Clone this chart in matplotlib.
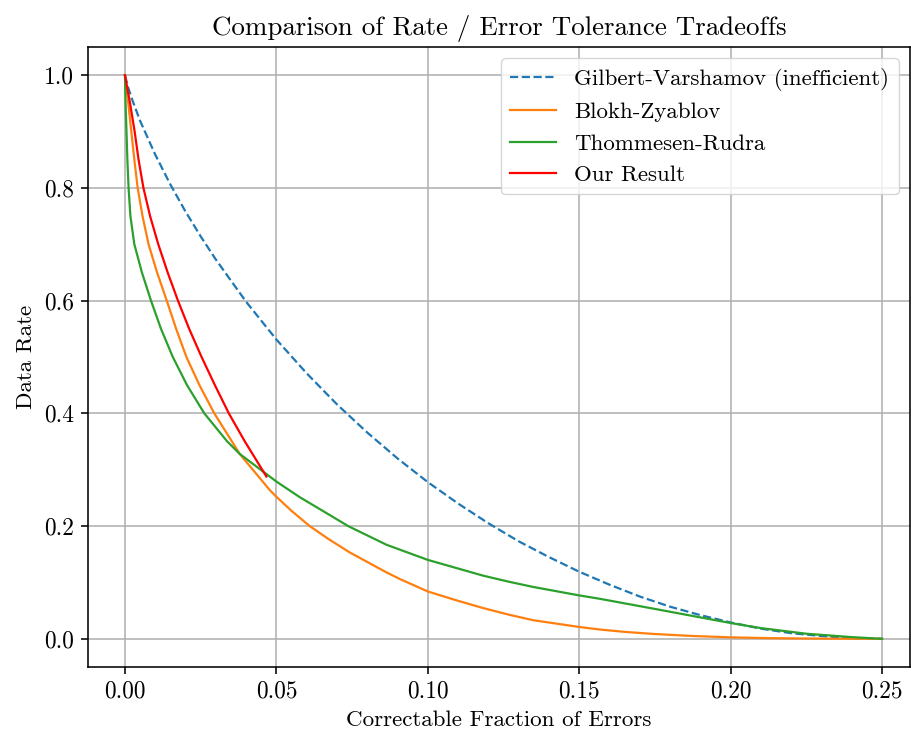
import matplotlib
matplotlib.use("Agg")
import matplotlib.pyplot as plt

# Computer Modern look (no LaTeX in the sandbox)
plt.rcParams['font.family'] = 'serif'
plt.rcParams['font.serif'] = ['cmr10']
plt.rcParams['mathtext.fontset'] = 'cm'
plt.rcParams['axes.formatter.use_mathtext'] = True

S = 1.42  # scale from default 100 dpi sizes

# ── Data ─────────────────────────────────────────────────────────────────────
gv_x = [0, 0.001, 0.0025, 0.005, 0.01, 0.015, 0.02, 0.025, 0.03, 0.04, 0.05,
        0.06, 0.07, 0.08, 0.09, 0.10, 0.11, 0.12, 0.13, 0.14, 0.15, 0.16,
        0.17, 0.18, 0.19, 0.20, 0.21, 0.22, 0.23, 0.24, 0.25]
gv_y = [1.0, 0.979, 0.955, 0.919, 0.859, 0.806, 0.758, 0.714, 0.673, 0.598,
        0.531, 0.471, 0.416, 0.366, 0.320, 0.278, 0.240, 0.205, 0.173, 0.145,
        0.119, 0.096, 0.075, 0.057, 0.042, 0.029, 0.018, 0.010, 0.005, 0.001,
        0.0]

bz_x = [0, 0.0011, 0.0021, 0.0031, 0.0042, 0.0058, 0.0078, 0.0106, 0.0138,
        0.0169, 0.0203, 0.0246, 0.0295, 0.0379, 0.0478, 0.050, 0.055, 0.061,
        0.0675, 0.0743, 0.0863, 0.0908, 0.10, 0.109, 0.1183, 0.127, 0.1348,
        0.15, 0.1568, 0.165, 0.175, 0.1875, 0.20, 0.2125, 0.225, 0.2375, 0.25]
bz_y = [1.0, 0.95, 0.90, 0.85, 0.80, 0.75, 0.70, 0.65, 0.60, 0.55, 0.50,
        0.45, 0.40, 0.328, 0.264, 0.252, 0.227, 0.200, 0.176, 0.153, 0.118,
        0.106, 0.084, 0.069, 0.0545, 0.0425, 0.033, 0.021, 0.0165, 0.0123,
        0.0085, 0.0050, 0.0026, 0.0012, 0.0005, 0.00015, 0.0]

tr_x = [0, 0.0002, 0.0005, 0.0008, 0.0012, 0.0018, 0.0031, 0.0056, 0.0086,
        0.0119, 0.0158, 0.0205, 0.0262, 0.0338, 0.0379, 0.05, 0.0578, 0.065,
        0.0737, 0.0863, 0.10, 0.1183, 0.127, 0.1348, 0.15, 0.1568, 0.175,
        0.20, 0.21, 0.225, 0.24, 0.25]
tr_y = [1.0, 0.95, 0.90, 0.85, 0.80, 0.75, 0.70, 0.65, 0.60, 0.55, 0.50,
        0.45, 0.40, 0.35, 0.328, 0.279, 0.251, 0.228, 0.200, 0.167, 0.140,
        0.112, 0.101, 0.092, 0.077, 0.071, 0.053, 0.028, 0.019, 0.009, 0.003,
        0.0]

ours_x = [0, 0.0017, 0.0032, 0.0045, 0.0061, 0.0083, 0.0110, 0.0141, 0.0175,
          0.0212, 0.0253, 0.0297, 0.0343, 0.0396, 0.0467]
ours_y = [1.0, 0.95, 0.90, 0.85, 0.80, 0.75, 0.70, 0.65, 0.60, 0.55, 0.50,
          0.45, 0.40, 0.35, 0.288]

# ── Plot ─────────────────────────────────────────────────────────────────────
fig = plt.figure(figsize=(9.11, 7.31), dpi=100)
ax = fig.add_axes([88 / 911, 1 - 667 / 731, (910 - 88) / 911, (667 - 47) / 731])

lw = 1.5 * S * 0.75
ax.plot(gv_x, gv_y, "--", color="C0", lw=lw, label="Gilbert-Varshamov (inefficient)")
ax.plot(bz_x, bz_y, "-", color="C1", lw=lw, label="Blokh-Zyablov")
ax.plot(tr_x, tr_y, "-", color="C2", lw=lw, label="Thommesen-Rudra")
ax.plot(ours_x, ours_y, "-", color="red", lw=lw, label="Our Result")

ax.set_xlim(-0.0122, 0.2592)
ax.set_ylim(-0.05, 1.05)
ax.set_xticks([0, 0.05, 0.10, 0.15, 0.20, 0.25])
ax.set_xticklabels(["0.00", "0.05", "0.10", "0.15", "0.20", "0.25"])
ax.set_yticks([0, 0.2, 0.4, 0.6, 0.8, 1.0])
ax.set_yticklabels(["0.0", "0.2", "0.4", "0.6", "0.8", "1.0"])
ax.tick_params(labelsize=16.8, width=0.8 * S, length=3.5 * S, pad=3.5 * S)
ax.grid(True, color="#b0b0b0", lw=0.8 * S)
for sp in ax.spines.values():
    sp.set_linewidth(0.8 * S)

ax.set_title("Comparison of Rate / Error Tolerance Tradeoffs", fontsize=19.4, pad=6 * S)
ax.set_xlabel("Correctable Fraction of Errors", fontsize=16.6, labelpad=4 * S)
ax.set_ylabel("Data Rate", fontsize=16.6, labelpad=4 * S)
ax.legend(loc="upper right", fontsize=16.5)

fig.savefig("out.png", dpi=100)
